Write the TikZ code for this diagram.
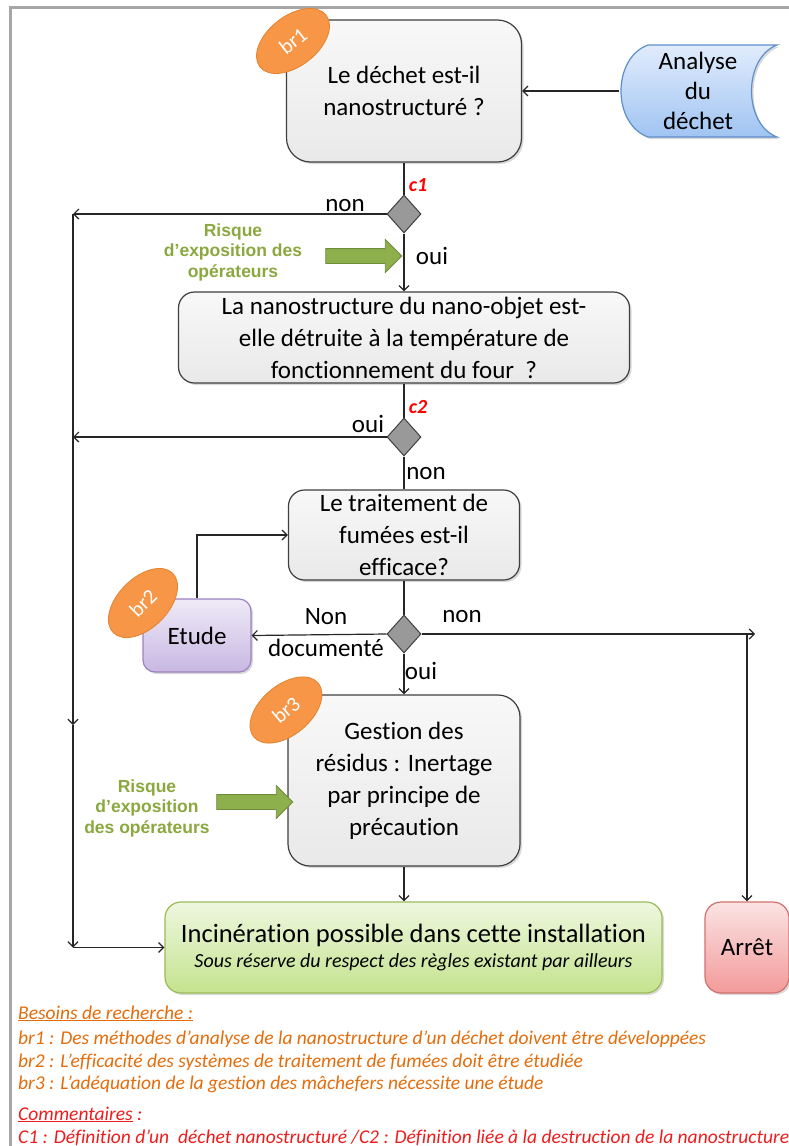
\documentclass[tikz,border=0pt]{standalone}
\usepackage{fontspec}
\setmainfont{Carlito}[Ligatures={NoCommon}]
\newfontfamily\arialfont{Liberation Sans}
\usetikzlibrary{arrows.meta, positioning, shapes.geometric, shapes.arrows, shadows}

\definecolor{lineblack}{HTML}{262626}
\definecolor{boxline}{HTML}{3F3F3F}
\definecolor{grayTop}{HTML}{F8F8F8}
\definecolor{grayBot}{HTML}{E9E9E9}
\definecolor{greenTop}{HTML}{EEF7DF}
\definecolor{greenBot}{HTML}{C4E38E}
\definecolor{greenLine}{HTML}{9BBB59}
\definecolor{redTop}{HTML}{FBE3E3}
\definecolor{redBot}{HTML}{F39A9A}
\definecolor{redLine}{HTML}{D47070}
\definecolor{purpleTop}{HTML}{EFEAF7}
\definecolor{purpleBot}{HTML}{C8B8E2}
\definecolor{purpleLine}{HTML}{9A83C0}
\definecolor{blueTop}{HTML}{E1ECFC}
\definecolor{blueBot}{HTML}{A0C4F2}
\definecolor{blueLine}{HTML}{5E8FCB}
\definecolor{brOrange}{HTML}{F79646}
\definecolor{brLine}{HTML}{E3832F}
\definecolor{riskGreen}{HTML}{8AA83F}
\definecolor{arrowGreen}{HTML}{8DB04C}
\definecolor{arrowLine}{HTML}{6F8C3A}
\definecolor{noteOrange}{HTML}{E46C0A}
\definecolor{noteRed}{HTML}{EE1C1C}
\definecolor{frameGray}{HTML}{A6A6A6}

\begin{document}
\begin{tikzpicture}[x=1pt, y=-1pt,
  shade box/.style={line width=1.2pt, rounded corners=16pt, align=center, inner sep=0pt,
    font=\fontsize{25}{32}\selectfont,
    drop shadow={opacity=0.3, shadow xshift=2pt, shadow yshift=-2pt}},
  qbox/.style={shade box, draw=boxline, top color=grayTop, bottom color=grayBot},
  dec/.style={diamond, draw=boxline, fill=gray!80, line width=1pt, inner sep=0pt, minimum width=34pt, minimum height=38pt},
  lbl/.style={font=\fontsize{25}{28}\selectfont, inner sep=0pt},
  cnum/.style={font=\fontsize{20}{22}\selectfont\bfseries\itshape, text=red, inner sep=0pt},
  brtag/.style={ellipse, fill=brOrange, draw=brLine, line width=0.8pt, minimum width=84pt, minimum height=50pt,
    inner sep=0pt, text=white, font=\fontsize{21}{22}\selectfont},
  risk/.style={align=center, text=riskGreen, font=\arialfont\bfseries\fontsize{17.5}{20.5}\selectfont, inner sep=0pt},
  riskarrow/.style={single arrow, fill=arrowGreen, draw=arrowLine, line width=0.8pt, inner xsep=0pt, inner ysep=7pt,
    minimum height=76pt, single arrow head extend=9pt, single arrow tip angle=90},
  note/.style={anchor=base west, inner sep=0pt, font=\fontsize{19.5}{22}\selectfont\itshape},
  conn/.style={draw=lineblack, line width=1.2pt},
  arr/.style={conn, -{Straight Barb[length=5pt, width=10pt]}}
]
\useasboundingbox (0,0) rectangle (789,1146);
\draw[frameGray, line width=3pt] (10,1146) -- (10,7.5) -- (789,7.5);

% stored data shape
\draw[draw=blueLine, line width=1.2pt, top color=blueTop, bottom color=blueBot,
  drop shadow={opacity=0.3, shadow xshift=2pt, shadow yshift=-2pt}]
  (648,45) -- (777,45) .. controls (743,58) and (743,124) .. (777,137)
  -- (648,137) .. controls (612,124) and (612,58) .. (648,45) -- cycle;
\node[align=center, inner sep=0pt, minimum width=158pt, minimum height=92pt,
  font=\fontsize{25}{30}\selectfont] (an) at (698,91) {Analyse\\du\\déchet};

% questions
\node[qbox, minimum width=235pt, minimum height=142pt, rounded corners=24pt] (q1) at (404,91) {Le déchet est-il\\nanostructuré ?};
\node[qbox, minimum width=451pt, minimum height=91pt] (q2) at (404,337.5) {La nanostructure du nano-objet est-\\elle détruite à la température de\\fonctionnement du four\ \ ?};
\node[qbox, minimum width=231pt, minimum height=90pt] (q3) at (404,535) {Le traitement de\\fumées est-il\\efficace?};
\node[qbox, minimum width=232pt, minimum height=171pt, rounded corners=22pt] (q4) at (404,780.5) {Gestion des\\résidus : Inertage\\par principe de\\précaution};

% issues
\node[shade box, draw=purpleLine, top color=purpleTop, bottom color=purpleBot, minimum width=108pt, minimum height=73pt, rounded corners=12pt] (etude) at (197,635.5) {Etude};
\node[shade box, draw=greenLine, top color=greenTop, bottom color=greenBot, minimum width=497pt, minimum height=91pt, font=\fontsize{20}{25}\selectfont] (inc) at (413.5,947.5)
  {{\fontsize{26.5}{25}\selectfont Incinération possible dans cette installation}\\\textit{Sous réserve du respect des règles existant par ailleurs}};
\node[shade box, draw=redLine, top color=redTop, bottom color=redBot, minimum width=84pt, minimum height=91pt] (arret) at (747,947.5) {Arrêt};

% decisions
\node[dec] (c1) at (404,214) {};
\node[dec] (c2) at (404,437) {};
\node[dec] (c3) at (404,634) {};
\node[cnum] (c1n) at (418,185) {c1};
\node[cnum] (c2n) at (418,407) {c2};

% branch labels
\node[lbl] (non1) at (345,206) {non};
\node[lbl] (oui1) at (432,256) {oui};
\node[lbl] (oui2) at (368,424) {oui};
\node[lbl] (non2) at (426,474) {non};
\node[lbl] (non3a) at (326,617) {Non};
\node[lbl] (non3b) at (326,648) {documenté};
\node[lbl] (oui3) at (421,671) {oui};
\node[lbl] (non3) at (462,617) {non};

% free ends
\coordinate (l1) at (73,214);
\coordinate (l2) at (73,437);
\coordinate (lm) at (73,725);
\coordinate (l3) at (73,947.5);
\coordinate (r1) at (755,634);

% connectors
\draw[arr] (an.west) -- (q1.east);
\draw[conn] (q1.south) -- (c1.north);
\draw[arr] (c1.west) -- (l1);
\draw[arr] (c1.south) -- (q2.north);
\draw[conn] (q2.south) -- (c2.north);
\draw[arr] (c2.west) -- (l2);
\draw[conn] (c2.south) -- (q3.north);
\draw[conn] (q3.south) -- (c3.north);
\draw[arr] (c3.west) -- (etude.east);
\draw[arr] (etude.north) |- (q3.west);
\draw[arr] (c3.east) -- (r1);
\draw[arr] (arret.north |- c3.east) -- (arret.north);
\draw[arr] (c3.south) -- (q4.north);
\draw[arr] (q4.south) -- (q4.south |- inc.north);
\draw[arr] (l1) -- (lm);
\draw[arr] (lm) -- (l3);
\draw[arr] (l3) -- (inc.west);

% exposure risks
\node[riskarrow] (ra1) at (360,256) {};
\node[risk] (rt1) at (233,252) {Risque\\d’exposition des\\opérateurs};
\node[riskarrow] (ra2) at (251,802) {};
\node[risk] (rt2) at (147,808) {Risque\\d’exposition\\des opérateurs};

% research needs tags
\node[brtag, rotate=38] (br1) at (293,41) {br1};
\node[brtag, rotate=45] (br2) at (143,603) {br2};
\node[brtag, rotate=40] (br3) at (286,710) {br3};

% notes
\node[note, text=noteOrange] (nb) at (18,1019) {\underline{Besoins de recherche :}};
\node[note, text=noteOrange] (nb1) at (18,1044) {br1 : Des méthodes d’analyse\ de la nanostructure d’un déchet doivent être développées};
\node[note, text=noteOrange] (nb2) at (18,1067) {br2 : L’efficacité des systèmes de traitement de fumées\ doit être étudiée};
\node[note, text=noteOrange] (nb3) at (18,1089) {br3 : L’adéquation de la gestion des mâchefers nécessite\ une étude};
\node[note, text=noteRed] (nc) at (18,1120) {\underline{Commentaires} :};
\node[note, text=noteRed] (nc1) at (18,1143) {C1 : Définition d’un\ \ déchet nanostructuré /C2 : Définition liée à la destruction de la nanostructure};
\end{tikzpicture}
\end{document}
